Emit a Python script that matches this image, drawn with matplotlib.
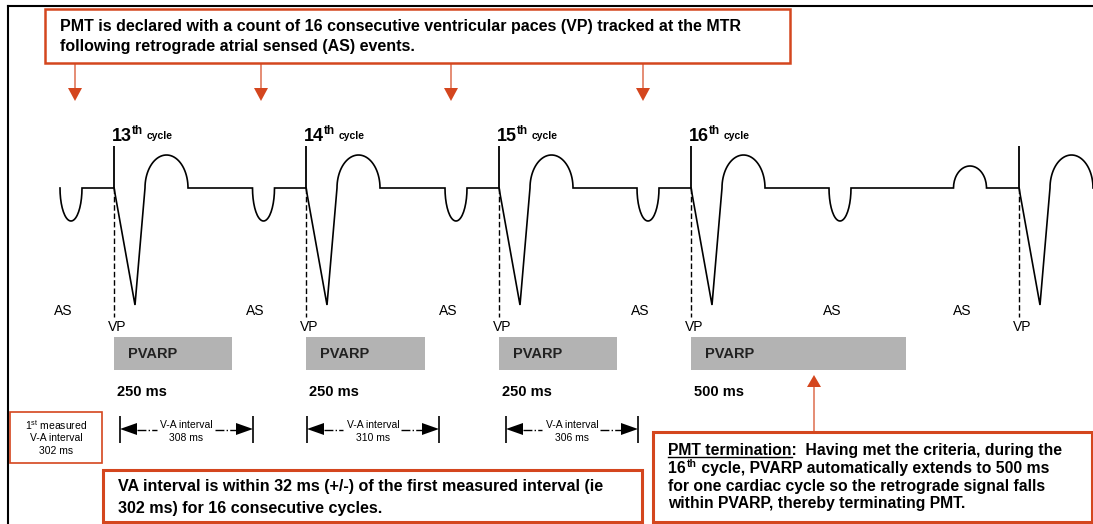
import numpy as np
import matplotlib.pyplot as plt
from matplotlib.patches import Rectangle

plt.rcParams['font.family'] = ['Liberation Sans', 'DejaVu Sans']
plt.rcParams['mathtext.fontset'] = 'custom'
plt.rcParams['mathtext.rm'] = 'Liberation Sans'
plt.rcParams['mathtext.bf'] = 'Liberation Sans:bold'

# event positions along the schematic timeline
vp_pos = [114, 306, 499, 691, 1019]          # ventricular paces
retro_as_pos = [71, 263.5, 456, 648, 840]    # retrograde atrial sensed events
sinus_p_pos = [970]                          # upright sinus P wave
cycle_nums = ['13', '14', '15', '16']
pvarp_ms = [250, 250, 250, 500]
pvarp_end = [232, 425, 617, 906]
va_ms = [308, 310, 306]
va_start = [120, 307, 506]
va_end = [253, 439, 638]
first_va_ms = 302
callout_arrow_x = [75, 261, 451, 643]

orange = '#D4461E'
gray = '#B3B3B3'
base = 188

fig = plt.figure(figsize=(10.93, 5.24), dpi=100)
ax = fig.add_axes([0, 0, 1, 1])
ax.set_xlim(0, 1093)
ax.set_ylim(524, 0)
ax.axis('off')

# outer frame (top and left edges visible)
ax.plot([8, 1093], [6, 6], color='black', lw=1.5)
ax.plot([8, 8], [6, 524], color='black', lw=1.5)


def half_wave(cx, rx, ry, n=40):
    t = np.linspace(0, np.pi, n)
    return cx - rx * np.cos(t), base + ry * np.sin(t)


# waveform
events = sorted([(p, 'as') for p in retro_as_pos] +
                [(p, 'p') for p in sinus_p_pos] +
                [(p, 'vp') for p in vp_pos])
xs, ys = [], []
for pos, kind in events:
    if kind == 'as':
        x, y = half_wave(pos, 11, 33)
    elif kind == 'p':
        x, y = half_wave(pos, 16.5, -22)
    else:
        tx, ty = half_wave(pos + 52.5, 21.5, -33)
        x = np.r_[[pos, pos + 21, pos + 31], tx]
        y = np.r_[[base, 305, base], ty]
    xs.extend(x)
    ys.extend(y)
ax.plot(xs, ys, color='black', lw=1.2, solid_joinstyle='miter')

# pacing spikes and dashed markers
ax.vlines(vp_pos, 146, base, color='black', lw=1.3)
ax.vlines(vp_pos, base, 317, color='black', lw=1, linestyles=(0, (4, 2)))
for p in vp_pos:
    ax.text(p - 6, 327, 'VP', fontsize=10, va='center', ha='left')
for p in retro_as_pos + sinus_p_pos:
    ax.text(p - 8, 311, 'AS', fontsize=10, va='center', ha='center')

# cycle labels
for p, n in zip(vp_pos, cycle_nums):
    ax.text(p - 2, 141, n, fontsize=13, fontweight='bold', ha='left', va='baseline')
    ax.text(p + 18, 134, 'th', fontsize=8.5, fontweight='bold', ha='left', va='baseline')
    ax.text(p + 33, 139, 'cycle', fontsize=7.5, fontweight='bold', ha='left', va='baseline')

# PVARP bars
for p, end, ms in zip(vp_pos, pvarp_end, pvarp_ms):
    ax.add_patch(Rectangle((p, 337), end - p, 33, color=gray, lw=0))
    ax.text(p + 14, 354, 'PVARP', fontsize=10.5, fontweight='bold', va='center', color='#222222')
    ax.text(p + 3, 392, f'{ms} ms', fontsize=10.5, fontweight='bold', va='center')

# V-A interval markers
for s, e, ms in zip(va_start, va_end, va_ms):
    mid = (s + e) / 2
    ax.vlines([s, e], 416, 443, color='black', lw=1.2)
    ax.fill([s, s + 17, s + 17], [429, 423, 435], color='black', lw=0)
    ax.fill([e, e - 17, e - 17], [429, 423, 435], color='black', lw=0)
    ax.plot([s + 17, mid - 30], [430, 430], color='black', lw=1, ls='-.')
    ax.plot([mid + 28, e - 17], [430, 430], color='black', lw=1, ls='-.')
    ax.text(mid, 425, 'V-A interval', fontsize=7.5, ha='center', va='center')
    ax.text(mid, 438, f'{ms} ms', fontsize=7.5, ha='center', va='center')

# top callout
ax.add_patch(Rectangle((45, 9), 745, 54, fill=False, ec=orange, lw=1.8))
ax.text(60, 27, 'PMT is declared with a count of 16 consecutive ventricular paces (VP) tracked at the MTR',
        fontsize=11.5, fontweight='bold', va='center')
ax.text(60, 46, 'following retrograde atrial sensed (AS) events.',
        fontsize=11.5, fontweight='bold', va='center')
for p in callout_arrow_x:
    ax.arrow(p, 63, 0, 38, width=1.2, head_width=14, head_length=13,
             length_includes_head=True, color=orange, lw=0)

# first measured interval box
ax.add_patch(Rectangle((10, 412), 92, 51, fill=False, ec=orange, lw=1.2))
ax.text(56, 425, '1$^{\\rm st}$ measured', fontsize=7.5, ha='center', va='center')
ax.text(56, 438, 'V-A interval', fontsize=7.5, ha='center', va='center')
ax.text(56, 451, f'{first_va_ms} ms', fontsize=7.5, ha='center', va='center')

# bottom-left callout
ax.add_patch(Rectangle((103, 470), 539, 52, fill=False, ec=orange, lw=2.2))
ax.text(118, 487, 'VA interval is within 32 ms (+/-) of the first measured interval (ie',
        fontsize=11.6, fontweight='bold', va='center')
ax.text(118, 508, f'{first_va_ms} ms) for 16 consecutive cycles.',
        fontsize=11.6, fontweight='bold', va='center')

# bottom-right callout
ax.add_patch(Rectangle((653, 432), 439, 90, fill=False, ec=orange, lw=2.2))
ax.arrow(814, 432, 0, -57, width=1.2, head_width=14, head_length=12,
         length_includes_head=True, color=orange, lw=0)
fs = 11.3
tx0 = 668
ax.text(tx0, 455, 'PMT termination:  Having met the criteria, during the',
        fontsize=fs, fontweight='bold', va='baseline')
ax.text(tx0, 491, 'for one cardiac cycle so the retrograde signal falls',
        fontsize=fs, fontweight='bold', va='baseline')
ax.text(tx0, 508, 'within PVARP, thereby terminating PMT.',
        fontsize=fs, fontweight='bold', va='baseline')

# second line: "16" + superscript "th" + rest, and underline, placed by measured widths
fig.canvas.draw()
renderer = fig.canvas.get_renderer()
inv = ax.transData.inverted()


def width_of(t):
    return t.get_window_extent(renderer).transformed(inv)


t16 = ax.text(tx0, 473, '16', fontsize=fs, fontweight='bold', va='baseline')
x_th = width_of(t16).x1
tth = ax.text(x_th + 1, 467, 'th', fontsize=7.5, fontweight='bold', va='baseline')
x_rest = width_of(tth).x1
ax.text(x_rest, 473, ' cycle, PVARP automatically extends to 500 ms',
        fontsize=fs, fontweight='bold', va='baseline')

probe = ax.text(tx0, 455, 'PMT termination', fontsize=fs, fontweight='bold', va='baseline', alpha=0)
bb = width_of(probe)
ax.plot([bb.x0, bb.x1], [457, 457], color='black', lw=1)

fig.savefig('out.png', dpi=100)
